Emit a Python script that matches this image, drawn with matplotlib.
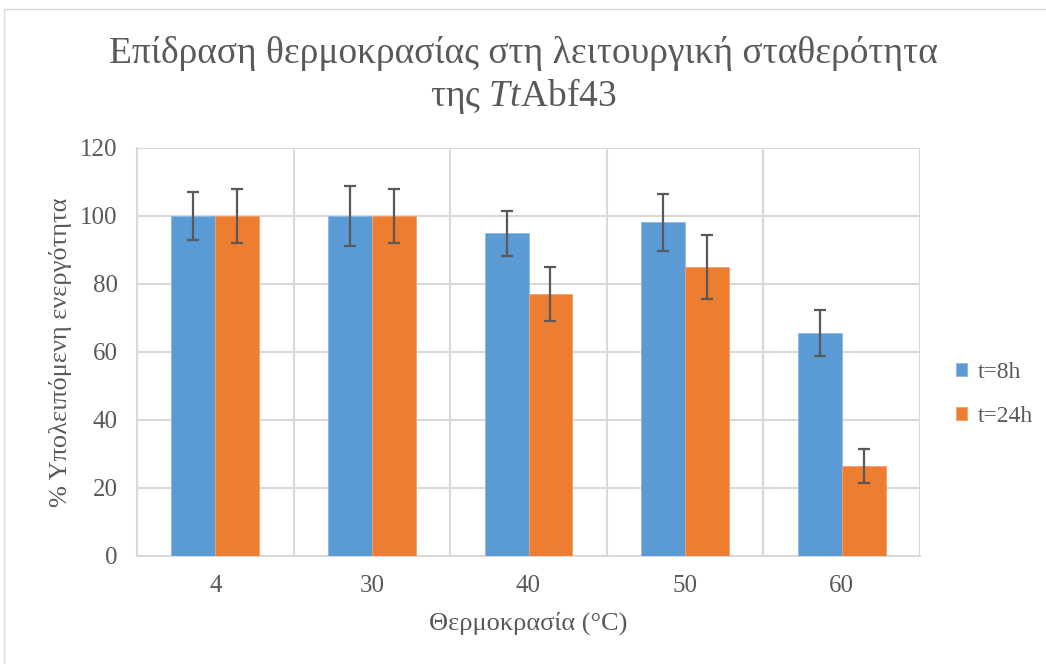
import matplotlib
matplotlib.use('Agg')
import matplotlib.pyplot as plt
import numpy as np
from matplotlib.patches import Rectangle

plt.rcParams['font.family'] = ['Liberation Serif', 'DejaVu Serif']
plt.rcParams['mathtext.fontset'] = 'custom'
plt.rcParams['mathtext.rm'] = 'Liberation Serif'
plt.rcParams['mathtext.it'] = 'Liberation Serif:italic'

# data
temperatures = ['4', '30', '40', '50', '60']
act_8h = [100, 100, 94.9, 98.1, 65.5]
err_8h = [7.1, 8.7, 6.6, 8.3, 6.8]
act_24h = [100, 100, 77.0, 84.9, 26.5]
err_24h = [7.8, 7.9, 8.0, 9.4, 4.9]
series_names = ['t=8h', 't=24h']

blue = '#5b9bd5'
orange = '#ed7d31'
txt = '#595959'
grid = '#d9d9d9'

fig = plt.figure(figsize=(10.46, 6.64), dpi=100)
fig.patches.append(Rectangle((4/1046, -0.01), 1.02, 1 - 9/664 + 0.01, transform=fig.transFigure,
                             fill=False, edgecolor='#d9d9d9', linewidth=1.0))
ax = fig.add_axes((137/1046, 1 - 556/664, (920 - 137)/1046, (556 - 148)/664))

x = np.arange(len(temperatures))
w = 0.28
ekw = dict(ecolor=txt, elinewidth=1.6, capsize=4.5, capthick=1.6)
ax.bar(x - w/2, act_8h, w, yerr=err_8h, color=blue, edgecolor='#8cb8e3', linewidth=0.6,
       label=series_names[0], error_kw=ekw, zorder=3)
ax.bar(x + w/2, act_24h, w, yerr=err_24h, color=orange, edgecolor='#f2a06f', linewidth=0.6,
       label=series_names[1], error_kw=ekw, zorder=3)

ax.set_xlim(-0.5, len(temperatures) - 0.5)
ax.set_ylim(0, 120)
ax.set_yticks(range(0, 121, 20))
ax.set_xticks(x)
ax.set_xticklabels(temperatures)
ax.set_xticks(np.arange(-0.5, len(temperatures)), minor=True)
ax.grid(axis='y', color=grid, linewidth=1.5, zorder=0)
ax.grid(axis='x', which='minor', color=grid, linewidth=1.5, zorder=0)
ax.tick_params(which='both', length=0, labelsize=18, colors=txt)
ax.tick_params(axis='x', pad=14)
ax.tick_params(axis='y', pad=14)
for s in ['top', 'right']:
    ax.spines[s].set_visible(False)
for s in ['left', 'bottom']:
    ax.spines[s].set_color(grid)
    ax.spines[s].set_linewidth(1.5)

ax.set_xlabel('Θερμοκρασία (°C)', fontsize=19, color=txt, labelpad=10)
ax.set_ylabel('% Υπολειπόμενη ενεργότητα', fontsize=19, color=txt, labelpad=6)

fig.text(0.5, 1 - 76/664, 'Επίδραση θερμοκρασίας στη λειτουργική σταθερότητα\nτης $\\mathit{Tt}$Abf43',
         ha='center', va='center', fontsize=27, color=txt, linespacing=1.15)

leg = ax.legend(loc='center left', bbox_to_anchor=(1.046, 0.396), frameon=False, fontsize=17,
                handlelength=0.47, handleheight=0.47, handletextpad=0.45, labelspacing=0.95,
                borderpad=0, borderaxespad=0)
for t in leg.get_texts():
    t.set_color(txt)

fig.savefig('out.png', dpi=100)
